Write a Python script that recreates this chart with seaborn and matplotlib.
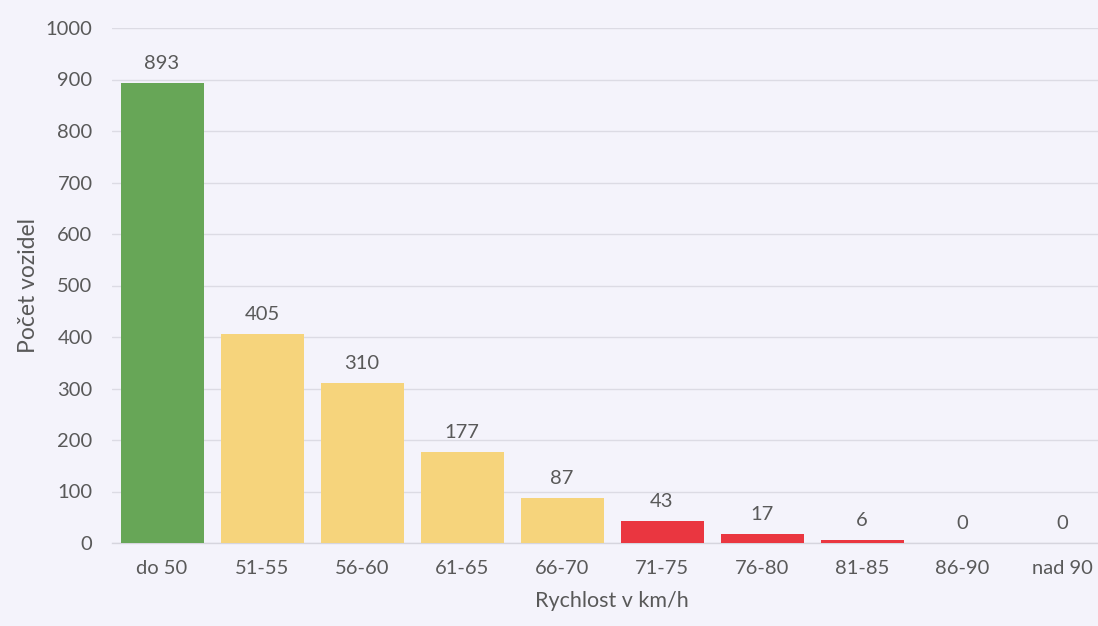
import matplotlib
matplotlib.use("Agg")
import matplotlib.pyplot as plt
import seaborn as sns
import pandas as pd

categories = ["do 50", "51-55", "56-60", "61-65", "66-70", "71-75", "76-80", "81-85", "86-90", "nad 90"]
counts = [893, 405, 310, 177, 87, 43, 17, 6, 0, 0]
bar_colors = ["#67a657", "#f6d47c", "#f6d47c", "#f6d47c", "#f6d47c",
              "#ea3640", "#ea3640", "#ea3640", "#ea3640", "#ea3640"]
y_ticks = [0, 100, 200, 300, 400, 500, 600, 700, 800, 900, 1000]

sns.set_theme(style="white")
plt.rcParams["font.family"] = ["Lato", "DejaVu Sans"]

bg = "#f4f3fb"
text_col = "#595959"

df = pd.DataFrame({"rychlost": categories, "pocet": counts})

fig = plt.figure(figsize=(10.98, 6.26), dpi=100, facecolor=bg)
ax = fig.add_axes([112 / 1098, (626 - 543) / 626, 1000 / 1098, (543 - 28) / 626])
ax.set_facecolor(bg)

sns.barplot(data=df, x="rychlost", y="pocet", hue="rychlost", palette=bar_colors,
            legend=False, width=0.83, saturation=1, linewidth=0, ax=ax, zorder=3)

for i, v in enumerate(counts):
    ax.text(i, v + 22, f"{v}", ha="center", va="bottom", fontsize=14.5, color=text_col)

ax.set_ylim(0, 1000)
ax.set_xlim(-0.5, 9.5)
ax.set_yticks(y_ticks)
ax.grid(axis="y", color="#dcdbe4", linewidth=1, zorder=0)
for s in ["top", "right", "left"]:
    ax.spines[s].set_visible(False)
ax.spines["bottom"].set_color("#d6d5de")
ax.spines["bottom"].set_linewidth(1)
ax.tick_params(axis="both", length=0, labelsize=14.5, colors=text_col)
ax.tick_params(axis="x", pad=12)
ax.tick_params(axis="y", pad=14)

ax.set_xlabel("Rychlost v km/h", fontsize=15.5, color=text_col, labelpad=10)
ax.set_ylabel("Počet vozidel", fontsize=16.5, color=text_col, labelpad=5)

fig.savefig("out.png", dpi=100, facecolor=bg)
